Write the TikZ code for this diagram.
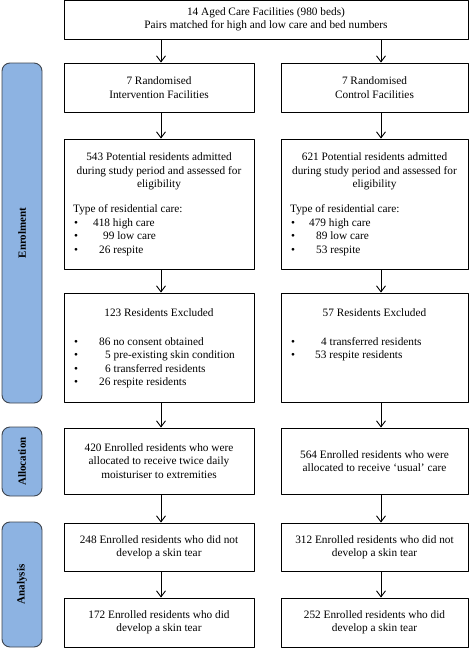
\documentclass[tikz,border=0pt]{standalone}
\usepackage{fontspec}
\setmainfont{Liberation Serif}
\usetikzlibrary{arrows.meta}
\definecolor{stageblue}{HTML}{8DB3E2}
\definecolor{stageedge}{HTML}{3F4650}
\newcommand{\bul}[2]{\makebox[#1][l]{\hspace{1pt}\textbullet}#2}

\begin{document}
\begin{tikzpicture}[line cap=round,line join=round,>={Straight Barb[length=6pt,width=9pt]},x=1pt,y=-1pt,
    box/.style={draw,line width=0.9pt,inner sep=0pt,align=center,font=\fontsize{11.3}{13.3}\selectfont},
    txt/.style={inner sep=0pt,font=\fontsize{11.3}{13.6}\selectfont},
    stage/.style={draw=stageedge,fill=stageblue,line width=0.9pt,rounded corners=8pt,rotate=90,
        minimum height=40pt,inner sep=0pt,font=\fontsize{11}{13}\selectfont\bfseries}]
    \useasboundingbox (0,0) rectangle (469,648);
    \coordinate (colL) at (161,0);
    \coordinate (colR) at (381,0);
    % stages
    \node[stage,minimum width=340pt] (enrol) at (22,233) {Enrolment};
    \node[stage,minimum width=69pt] (alloc) at (22,461.5) {Allocation};
    \node[stage,minimum width=125pt] (anal) at (22,584.5) {Analysis};
    % boxes
    \node[box,minimum width=404pt,minimum height=39pt] (top) at (266,19.5)
        {14 Aged Care Facilities (980 beds)\\Pairs matched for high and low care and bed numbers};
    \node[box,minimum width=190pt,minimum height=49pt] (int1) at (159,87.5) {7 Randomised\\Intervention Facilities};
    \node[box,minimum width=187pt,minimum height=49pt] (ctl1) at (374.5,87.5) {7 Randomised\\Control Facilities};
    \node[box,minimum width=190pt,minimum height=130pt] (int2) at (159,204) {};
    \node[box,minimum width=187pt,minimum height=130pt] (ctl2) at (374.5,204) {};
    \node[box,minimum width=190pt,minimum height=109pt] (int3) at (159,347.5) {};
    \node[box,minimum width=187pt,minimum height=109pt] (ctl3) at (374.5,347.5) {};
    \node[box,minimum width=190pt,minimum height=66pt] (int4) at (159,461)
        {420 Enrolled residents who were\\allocated to receive twice daily\\moisturiser to extremities};
    \node[box,minimum width=187pt,minimum height=66pt] (ctl4) at (374.5,461)
        {564 Enrolled residents who were\\allocated to receive `usual' care};
    \node[box,minimum width=190pt,minimum height=48pt] (int5) at (159,547) {248 Enrolled residents who did not\\develop a skin tear};
    \node[box,minimum width=187pt,minimum height=48pt] (ctl5) at (374.5,547) {312 Enrolled residents who did not\\develop a skin tear};
    \node[box,minimum width=190pt,minimum height=49pt] (int6) at (159,622.5) {172 Enrolled residents who did\\develop a skin tear};
    \node[box,minimum width=187pt,minimum height=49pt] (ctl6) at (374.5,622.5) {252 Enrolled residents who did\\develop a skin tear};
    % texts of the eligibility and exclusion boxes
    \node[txt,align=center,anchor=north] (int2head) at (159,152.5)
        {543 Potential residents admitted\\during study period and assessed for\\eligibility};
    \node[txt,align=center,anchor=north] (ctl2head) at (374.5,152.5)
        {621 Potential residents admitted\\during study period and assessed for\\eligibility};
    \node[txt,align=left,anchor=north west] (int2list) at (73,204.5)
        {Type of residential care:\\\bul{20pt}{418 high care}\\\bul{30pt}{99 low care}\\\bul{26pt}{26 respite}};
    \node[txt,align=left,anchor=north west] (ctl2list) at (290,204.5)
        {Type of residential care:\\\bul{19pt}{479 high care}\\\bul{26pt}{89 low care}\\\bul{26pt}{53 respite}};
    \node[txt,anchor=north] (int3head) at (159,308.5) {123 Residents Excluded};
    \node[txt,anchor=north] (ctl3head) at (374.5,308.5) {57 Residents Excluded};
    \node[txt,align=left,anchor=north west] (int3list) at (73,337)
        {\bul{26pt}{86 no consent obtained}\\\bul{32pt}{5 pre-existing skin condition}\\
         \bul{32pt}{6 transferred residents}\\\bul{26pt}{26 respite residents}};
    \node[txt,align=left,anchor=north west] (ctl3list) at (290,337)
        {\bul{31pt}{4 transferred residents}\\\bul{25pt}{53 respite residents}};
    % arrows
    \draw[->,line width=0.9pt] (top.south -| colL) -- (int1.north -| colL);
    \draw[->,line width=0.9pt] (top.south -| colR) -- (ctl1.north -| colR);
    \foreach \a/\b in {1/2,2/3,3/4,4/5,5/6} {
        \draw[->,line width=0.9pt] (int\a.south -| colL) -- (int\b.north -| colL);
        \draw[->,line width=0.9pt] (ctl\a.south -| colR) -- (ctl\b.north -| colR);
    }
\end{tikzpicture}
\end{document}
